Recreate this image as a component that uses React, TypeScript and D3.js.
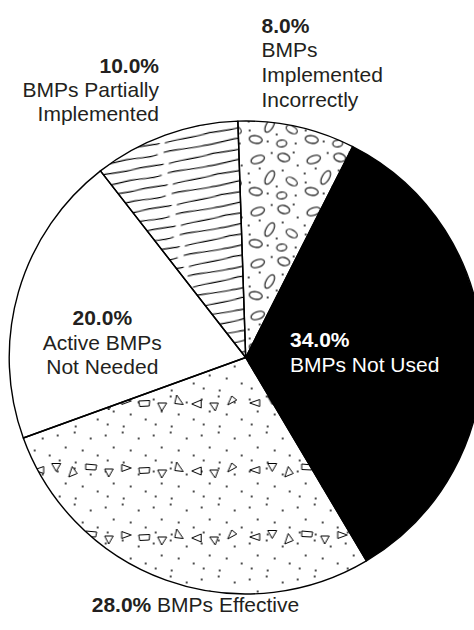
import React from "react";
import * as d3 from "d3";

// Share of sites by BMP status (percent)
const categories = [
  "BMPs Implemented Incorrectly",
  "BMPs Not Used",
  "BMPs Effective",
  "Active BMPs Not Needed",
  "BMPs Partially Implemented",
];
const shares = [8, 34, 28, 20, 10];
const labelLines = [
  ["BMPs", "Implemented", "Incorrectly"],
  ["BMPs Not Used"],
  ["BMPs Effective"],
  ["Active BMPs", "Not Needed"],
  ["BMPs Partially", "Implemented"],
];

const W = 474;
const H = 630;
const CX = 245.7;
const CY = 357.5;
const R = 236.5;
const START = (-1.9 * Math.PI) / 180;
const FONT = "'Liberation Sans', Arial, Helvetica, sans-serif";
const INK = "#231f20";

// fill layers per slice (painted bottom to top)
const sliceLayers = [
  ["#fff", "url(#ovals)"],
  ["#000"],
  ["#fff", "url(#dotsSparse)", "url(#shards)"],
  ["#fff"],
  ["#fff", "url(#grain)"],
];

// label placement per slice
const labelLayout = [
  { x: 261.5, y: 32.5, anchor: "start", color: INK, lh: 24.8 },
  { x: 290, y: 346.7, anchor: "start", color: "#fff", lh: 24.8 },
  { x: 195.4, y: 612, anchor: "middle", color: INK, lh: 24.8, inline: true },
  { x: 102.3, y: 325, anchor: "middle", color: INK, lh: 24.5 },
  { x: 159, y: 72.5, anchor: "end", color: INK, lh: 24.2 },
];

// texture motifs
const ovalShapes = [
  { cx: 12, cy: 10, rx: 7, ry: 3.8, rot: -20 },
  { cx: 38, cy: 8, rx: 6, ry: 4, rot: 15 },
  { cx: 24, cy: 28, rx: 7.5, ry: 3.6, rot: -60 },
  { cx: 46, cy: 32, rx: 6, ry: 3.5, rot: 30 },
  { cx: 10, cy: 42, rx: 6.5, ry: 3.8, rot: 10 },
  { cx: 36, cy: 46, rx: 5, ry: 3.4, rot: -5 },
];
const ovalDots = [
  [26, 3.5], [52, 16], [3, 24], [37, 21], [50, 46], [22, 44], [4, 33], [14, 19], [31, 37], [48, 3],
];
const sparseDots = [
  [4, 6], [21, 3], [37, 9], [12, 18], [29, 21], [44, 26], [6, 31], [22, 33],
];
const SHARD_W = 216;
const SHARD_H = 67;
const SHARD_ROW = 33;
const shardShapes = [
  { x: 4, y: 33, p: "0,0 10,-3.5 10,3.5" },
  { x: 22, y: 30.5, p: "0,-4 9,-4 4.5,4" },
  { x: 39, y: 35.5, p: "0,4.5 3.5,-6 8.5,1" },
  { x: 56, y: 30, p: "0,-3 11,-2 10,3 0,2.5" },
  { x: 75, y: 36, p: "0,-4 8.5,-4 4,4" },
  { x: 92, y: 31, p: "0,-3.5 9.5,0 0,3.5" },
  { x: 109, y: 34, p: "0,-3 11,-3.5 10.5,2 1,2.5" },
  { x: 128, y: 37, p: "0,-4 9,-4 4,4" },
  { x: 145, y: 30.5, p: "2,-5.5 8.5,4 0,3" },
  { x: 162, y: 34, p: "0,0 9.5,-4 9.5,4" },
  { x: 180, y: 37, p: "0,-4 8.5,-4 5.5,4" },
  { x: 198, y: 31, p: "0,4 4,-5 9,-1" },
];
const GRAIN_W = 110;
const GRAIN_H = 21;
const grainPaths = [
  "M0,4 C10,2 22,5.5 36,4 C48,2.8 56,5 66,4.5",
  "M72,5 C84,3 96,5.5 110,4",
  "M0,14.8 C12,16.5 24,13 38,14.5 C48,15.6 56,16 62,15",
  "M69,14 C80,12.5 94,16 110,14.8",
];

// shard rows sit at fixed page heights; slices are drawn in a translated group
const mod = (a: number, m: number) => ((a % m) + m) % m;
const shardOffsetY = mod(403 - CY - SHARD_ROW, SHARD_H);

export default function App() {
  const pie = d3
    .pie<number>()
    .sort(null)
    .value((d) => d)
    .startAngle(START)
    .endAngle(START + 2 * Math.PI);
  const arcs = pie(shares);
  const arcGen = d3
    .arc<d3.PieArcDatum<number>>()
    .innerRadius(0)
    .outerRadius(R);
  const pct = (v: number) => d3.format(".1f")(v) + "%";

  return (
    <svg
      width={W}
      height={H}
      viewBox={`0 0 ${W} ${H}`}
      style={{ position: "absolute", left: 0, top: 0, display: "block", background: "#fff" }}
    >
      <defs>
        <pattern id="ovals" patternUnits="userSpaceOnUse" width={56} height={52}>
          {ovalDots.map(([x, y], i) => (
            <circle key={"d" + i} cx={x} cy={y} r={0.95} fill="#000" />
          ))}
          {ovalShapes.map((e, i) => (
            <ellipse
              key={i}
              cx={e.cx}
              cy={e.cy}
              rx={e.rx}
              ry={e.ry}
              transform={`rotate(${e.rot} ${e.cx} ${e.cy})`}
              fill="#fff"
              stroke="#000"
              strokeWidth={1.1}
            />
          ))}
        </pattern>
        <pattern id="dotsSparse" patternUnits="userSpaceOnUse" width={48} height={36}>
          {sparseDots.map(([x, y], i) => (
            <circle key={i} cx={x} cy={y} r={0.95} fill="#000" />
          ))}
        </pattern>
        <pattern
          id="shards"
          patternUnits="userSpaceOnUse"
          x={0}
          y={shardOffsetY}
          width={SHARD_W}
          height={SHARD_H}
        >
          {shardShapes.map((s, i) => (
            <polygon
              key={i}
              points={s.p}
              transform={`translate(${s.x},${s.y})`}
              fill="#fff"
              stroke="#000"
              strokeWidth={1}
              strokeLinejoin="round"
            />
          ))}
        </pattern>
        <pattern
          id="grain"
          patternUnits="userSpaceOnUse"
          width={GRAIN_W}
          height={GRAIN_H}
          patternTransform="rotate(-11)"
        >
          {grainPaths.map((d, i) => (
            <path key={i} d={d} fill="none" stroke="#000" strokeWidth={1.2} strokeLinecap="round" />
          ))}
        </pattern>
      </defs>

      <g transform={`translate(${CX},${CY})`}>
        {arcs.map((a, i) => (
          <g key={categories[i]}>
            {sliceLayers[i].map((f, j) => (
              <path key={j} d={arcGen(a) || ""} fill={f} />
            ))}
          </g>
        ))}
        {arcs.map((a, i) => (
          <path
            key={"o" + i}
            d={arcGen(a) || ""}
            fill="none"
            stroke="#000"
            strokeWidth={1.4}
            strokeLinejoin="round"
          />
        ))}
      </g>

      <g fontFamily={FONT} fontSize={21}>
        {arcs.map((a, i) => {
          const L = labelLayout[i];
          if (L.inline) {
            return (
              <text key={"l" + i} x={L.x} y={L.y} textAnchor={L.anchor} fill={L.color}>
                <tspan fontWeight="bold">{pct(shares[i])}</tspan>
                <tspan> {labelLines[i].join(" ")}</tspan>
              </text>
            );
          }
          return (
            <text key={"l" + i} x={L.x} y={L.y} textAnchor={L.anchor} fill={L.color}>
              <tspan x={L.x} dy={0} fontWeight="bold">
                {pct(shares[i])}
              </tspan>
              {labelLines[i].map((line, k) => (
                <tspan key={k} x={L.x} dy={L.lh}>
                  {line}
                </tspan>
              ))}
            </text>
          );
        })}
      </g>
    </svg>
  );
}
